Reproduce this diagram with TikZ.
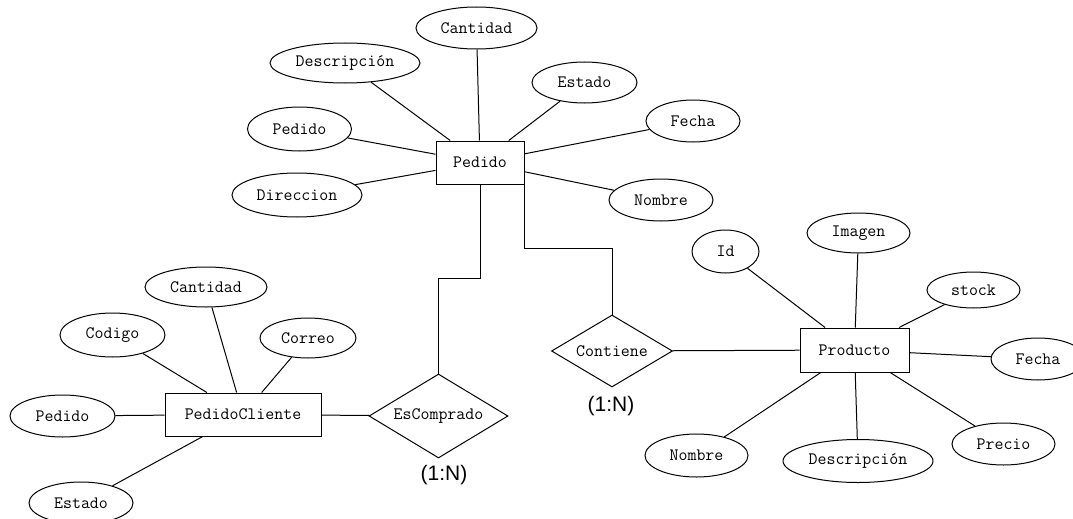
\documentclass[tikz,border=0pt]{standalone}
\usepackage{fontspec}
\newfontfamily\cardfont{Liberation Sans}
\usetikzlibrary{shapes.geometric}

\tikzset{
  er/.style={draw=black, line width=1pt, text=black, inner sep=0pt,
    font=\ttfamily\fontsize{17.4}{18}\selectfont},
  attr/.style={er, ellipse},
  entity/.style={er, rectangle},
  relation/.style={er, diamond},
  link/.style={draw=black, line width=1pt},
  card/.style={inner sep=0pt, text=black, font=\cardfont\fontsize{21}{24}\selectfont}
}

\begin{document}
\begin{tikzpicture}[x=1pt, y=-1pt]
\useasboundingbox[fill=white] (0,0) rectangle (1073,519);

% ---- entity Pedido and its attributes ----
\node[entity, minimum width=88, minimum height=43] (ped) at (480,162.5) {Pedido};
\node[attr, minimum width=121, minimum height=42] (pedCant) at (476.5,28) {Cantidad};
\node[attr, minimum width=150, minimum height=40] (pedDesc) at (345,63) {Descripción};
\node[attr, minimum width=104, minimum height=44] (pedPed)  at (299.5,129) {Pedido};
\node[attr, minimum width=130, minimum height=44] (pedDir)  at (297,195) {Direccion};
\node[attr, minimum width=105, minimum height=41] (pedEst)  at (584.5,82.5) {Estado};
\node[attr, minimum width=94,  minimum height=42] (pedFec)  at (693,121) {Fecha};
\node[attr, minimum width=104, minimum height=42] (pedNom)  at (661,200) {Nombre};

\foreach \a in {pedCant,pedDesc,pedPed,pedDir,pedEst,pedFec,pedNom}
  \draw[link] (\a) -- (ped);

% ---- entity PedidoCliente and its attributes ----
\node[entity, minimum width=156, minimum height=43] (pc) at (243,414.5) {PedidoCliente};
\node[attr, minimum width=122, minimum height=40] (pcCant) at (206,287) {Cantidad};
\node[attr, minimum width=105, minimum height=44] (pcCod)  at (112.5,335) {Codigo};
\node[attr, minimum width=96,  minimum height=40] (pcCor)  at (308,338) {Correo};
\node[attr, minimum width=105, minimum height=42] (pcPed)  at (62.5,416) {Pedido};
\node[attr, minimum width=104, minimum height=42] (pcEst)  at (81,503) {Estado};

\foreach \a in {pcCant,pcCod,pcCor,pcPed,pcEst}
  \draw[link] (\a) -- (pc);

% ---- entity Producto and its attributes ----
\node[entity, minimum width=109, minimum height=44] (prod) at (854.5,350) {Producto};
\node[attr, minimum width=103, minimum height=40] (prImg)  at (858.5,233) {Imagen};
\node[attr, minimum width=67,  minimum height=43] (prId)   at (725.5,251.5) {Id};
\node[attr, minimum width=93,  minimum height=36] (prSto)  at (973.5,290) {stock};
\node[attr, minimum width=94,  minimum height=42] (prFec)  at (1038,359) {Fecha};
\node[attr, minimum width=103, minimum height=42] (prPre)  at (1003.5,444) {Precio};
\node[attr, minimum width=150, minimum height=43] (prDesc) at (858,461) {Descripción};
\node[attr, minimum width=103, minimum height=43] (prNom)  at (696.5,455.5) {Nombre};

\foreach \a in {prImg,prId,prSto,prFec,prPre,prDesc,prNom}
  \draw[link] (\a) -- (prod);

% ---- relationships ----
\node[relation, aspect=1.65, minimum width=139, minimum height=84] (esc) at (438.5,416) {EsComprado};
\node[relation, aspect=1.68, minimum width=121, minimum height=72] (cont) at (612,351) {Contiene};

\draw[link] (ped.south) -- (ped.south |- 0,278) -| (esc.north);
\draw[link] (ped.south east) -- (ped.south east |- 0,248) -| (cont.north);
\draw[link] (pc) -- (esc);
\draw[link] (cont) -- (prod);

% ---- cardinalities ----
\node[card] (cardCont) at (611,406) {(1:N)};
\node[card] (cardEsc)  at (444,475) {(1:N)};

\end{tikzpicture}
\end{document}
